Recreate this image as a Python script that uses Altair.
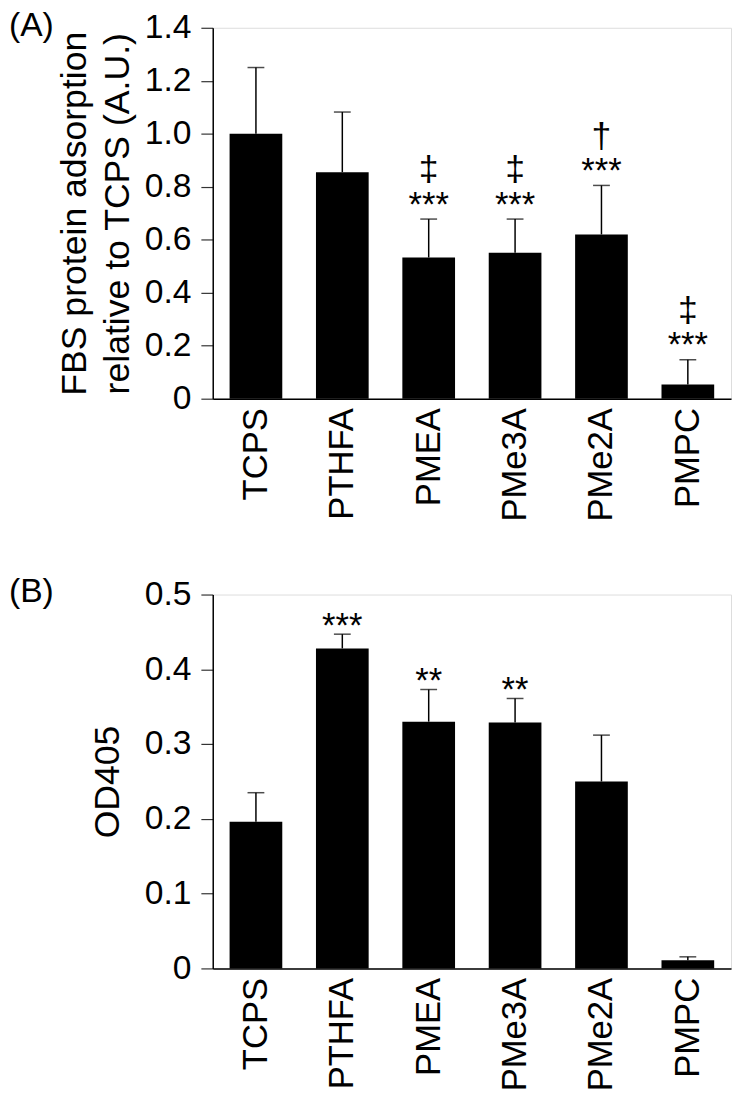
import altair as alt
import pandas as pd

FONT = "Liberation Sans"

categories = ["TCPS", "PTHFA", "PMEA", "PMe3A", "PMe2A", "PMPC"]

# Panel A: FBS protein adsorption relative to TCPS
a_mean = [1.00, 0.855, 0.533, 0.551, 0.620, 0.054]
a_err = [0.250, 0.227, 0.145, 0.127, 0.185, 0.093]
a_sig = ["", "", "***", "***", "***", "***"]
a_sym = ["", "", "‡", "‡", "†", "‡"]
a_ticks = [0, 0.2, 0.4, 0.6, 0.8, 1.0, 1.2, 1.4]

# Panel B: OD405
b_mean = [0.196, 0.428, 0.330, 0.329, 0.250, 0.011]
b_err = [0.039, 0.019, 0.043, 0.032, 0.062, 0.0045]
b_sig = ["", "***", "**", "**", "", ""]
b_sym = ["", "", "", "", "", ""]
b_ticks = [0, 0.1, 0.2, 0.3, 0.4, 0.5]


def panel(mean, err, sig, sym, ticks, ymax, title, tag, title_pad, height, sig_dy, sym_dy):
    df = pd.DataFrame({"cat": categories, "mean": mean, "err": err, "sig": sig, "sym": sym})
    df["top"] = df["mean"] + df["err"]

    x = alt.X("cat:N", sort=categories,
              scale=alt.Scale(paddingInner=0.39, paddingOuter=0.195),
              axis=alt.Axis(title=None, labelAngle=-90, ticks=False, labelFontSize=35,
                            labelPadding=9, labelColor="black", labelFont=FONT,
                            domainColor="black", domainWidth=1.5))
    yscale = alt.Scale(domain=[0, ymax], nice=False, zero=True)
    y = alt.Y("mean:Q", scale=yscale,
              axis=alt.Axis(title=title, values=ticks, grid=False, tickSize=12,
                            tickColor="#333", tickWidth=1.2, labelFontSize=34,
                            labelPadding=10, labelColor="black", labelFont=FONT,
                            labelExpr="datum.value == 0 ? '0' : format(datum.value, '.1f')",
                            titleFontSize=36, titleFont=FONT, titleFontWeight="normal",
                            titleColor="black", titlePadding=title_pad, titleLineHeight=43,
                            domainColor="black", domainWidth=1.5))

    base = alt.Chart(df)
    bars = base.mark_bar(color="black").encode(x=x, y=y)
    rule = base.mark_rule(color="black", strokeWidth=1.5).encode(
        x=alt.X("cat:N", sort=categories),
        y=alt.Y("mean:Q", scale=yscale), y2="top:Q")
    cap = base.mark_tick(color="black", thickness=1.5, size=17).encode(
        x=alt.X("cat:N", sort=categories),
        y=alt.Y("top:Q", scale=yscale))
    sigt = base.transform_filter(alt.datum.sig != "").mark_text(
        fontSize=35, font=FONT, color="black", baseline="alphabetic", dy=sig_dy).encode(
        x=alt.X("cat:N", sort=categories),
        y=alt.Y("top:Q", scale=yscale), text="sig:N")
    symt = base.transform_filter(alt.datum.sym != "").mark_text(
        fontSize=36, font=FONT, color="black", baseline="alphabetic", dy=sym_dy).encode(
        x=alt.X("cat:N", sort=categories),
        y=alt.Y("top:Q", scale=yscale), text="sym:N")
    tagt = alt.Chart(pd.DataFrame({"t": [tag]})).mark_text(
        fontSize=34, font=FONT, color="black", align="left", baseline="top").encode(
        x=alt.value(-206), y=alt.value(-19), text="t:N")

    return alt.layer(bars, rule, cap, sigt, symt, tagt).properties(width=524, height=height)


pa = panel(a_mean, a_err, a_sig, a_sym, a_ticks, 1.4,
           ["FBS protein adsorption", "relative to TCPS (A.U.)"], "(A)", 8, 375, -3.5, -38)
pb = panel(b_mean, b_err, b_sig, b_sym, b_ticks, 0.5, "OD405", "(B)", 18, 378, 2.5, -38)

chart = alt.vconcat(pa, pb, spacing=53).properties(
    padding={"left": 0, "top": -6, "right": 2, "bottom": 0}
).configure_view(stroke="black", strokeWidth=1.5).configure(background="white")

chart.save("out.html", embed_options={"renderer": "svg", "actions": False})
